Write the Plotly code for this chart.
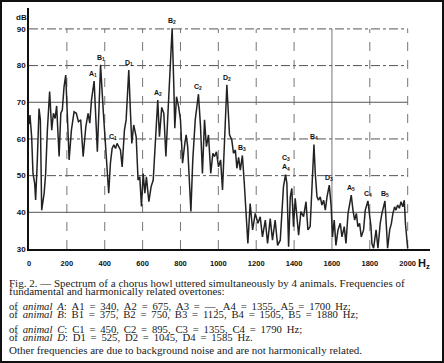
import plotly.graph_objects as go

# ---- data ----
freq_hz = [0, 5, 14, 21, 30, 35, 44, 53, 60, 67, 80, 88, 97, 109, 120, 129, 138, 146, 159, 168,
           176, 185, 194, 203, 212, 224, 238, 250, 261, 273, 286, 300, 312, 321, 330, 344, 353, 361,
           370, 378, 393, 405, 409, 421, 430, 439, 448, 457, 465, 474, 483, 492, 504, 513, 527, 536,
           543, 553, 566, 576, 585, 594, 603, 612, 620, 633, 645, 656, 664, 671, 680, 689, 701, 712,
           723, 733, 744, 756, 765, 770, 779, 790, 800, 811, 823, 830, 838, 846, 855, 865, 878, 895,
           906, 916, 927, 937, 948, 960, 971, 980, 990, 1001, 1012, 1022, 1033, 1045, 1059, 1071,
           1080, 1090, 1098, 1107, 1116, 1127, 1137, 1145, 1156, 1168, 1181, 1195, 1209, 1221, 1233,
           1248, 1260, 1274, 1286, 1300, 1313, 1327, 1336, 1344, 1355, 1362, 1371, 1380, 1388, 1397,
           1406, 1415, 1424, 1436, 1450, 1463, 1473, 1485, 1494, 1505, 1512, 1521, 1529, 1538, 1547,
           1556, 1565, 1574, 1586, 1596, 1603, 1612, 1621, 1632, 1644, 1653, 1665, 1674, 1685, 1693,
           1702, 1711, 1720, 1729, 1737, 1746, 1755, 1767, 1776, 1790, 1797, 1806, 1811, 1820, 1833,
           1843, 1855, 1864, 1880, 1885, 1894, 1905, 1914, 1922, 1931, 1938, 1947, 1956, 1965, 1974,
           1982, 1988, 2000]
level_db = [64, 66.5, 60.6, 50.6, 47.9, 43.4, 54.3, 68.3, 65.2, 40.6, 45.2, 50.6, 62.4, 72.9, 62.4,
            67, 65.6, 69, 55.2, 67, 67.9, 74.2, 77.4, 65.2, 54.3, 62.4, 67.4, 67, 64.7, 65.2, 55.2,
            63.3, 67, 64.3, 70.6, 75.8, 65.2, 56.5, 68.8, 80.2, 67, 56.5, 54.3, 45.2, 53.4, 57.4,
            58.4, 57.4, 58.8, 57.9, 57, 52.4, 62.4, 65.2, 78.8, 67, 58.8, 63.8, 60.6, 48.8, 49.7,
            41.6, 50.6, 45.2, 49.7, 42.9, 47, 48.8, 56.1, 62.4, 70.6, 60.6, 68.6, 67, 55.2, 66.1,
            78.8, 90.2, 74.2, 62.9, 71.5, 68.8, 65.2, 53.4, 58.8, 61.1, 57.9, 49.7, 40.2, 54.3,
            65.2, 72.2, 63.3, 50.6, 65.2, 57.9, 61.1, 50.6, 56.1, 55.2, 56.5, 52.4, 54.3, 46.1,
            59.7, 74.8, 61.1, 59.7, 56.1, 57, 52, 55, 51.5, 55.5, 48, 41.5, 31.5, 42.4, 35.2, 39.7,
            37, 38.8, 33.3, 37.9, 31.5, 38.3, 32.4, 37.9, 31, 32.4, 38.8, 47, 50.3, 47.9, 30.6, 44.2,
            46.5, 36.1, 43.8, 38.8, 33.8, 40.2, 38.8, 42.9, 35.2, 36.1, 47.9, 58.5, 50.6, 44.2, 43.3,
            44.2, 42, 43.3, 40.6, 44.2, 47.4, 41.5, 33.3, 37.9, 31, 35.2, 37, 33.3, 36.1, 31.5, 39.7,
            42.4, 44.7, 40.6, 37.9, 39.7, 36.1, 37, 33.3, 35.2, 40.6, 43.1, 39.7, 36.1, 31.5, 30.2,
            35.2, 30.2, 37, 39.7, 43.1, 37.9, 30.2, 35.2, 37, 39.7, 41.5, 40.6, 42, 41.1, 42.9, 41.5,
            43.3, 37, 30.2]

peak_labels = ["A<sub>1</sub>", "B<sub>1</sub>", "C<sub>1</sub>", "D<sub>1</sub>", "A<sub>2</sub>",
               "B<sub>2</sub>", "C<sub>2</sub>", "D<sub>2</sub>", "B<sub>3</sub>",
               "C<sub>3</sub><br>A<sub>4</sub>", "B<sub>4</sub>", "D<sub>3</sub>", "A<sub>5</sub>",
               "C<sub>4</sub>", "B<sub>5</sub>"]
peak_hz = [336, 378, 445, 527, 680, 756, 895, 1045, 1127, 1355, 1505, 1586, 1702, 1790, 1880]
peak_db = [75.8, 80.2, 58.6, 78.8, 70.6, 90.2, 72.2, 74.8, 55.5, 50.3, 58.5, 47.4, 44.7, 43.1, 43.1]

x_ticks = [0, 200, 400, 600, 800, 1000, 1200, 1400, 1600, 1800, 2000]
y_ticks = [30, 40, 50, 60, 70, 80, 90]

caption_lines = [
    "Fig. 2. — Spectrum of a chorus howl uttered simultaneously by 4 animals. Frequencies of",
    "fundamental and harmonically related overtones:",
    "of <i>animal A</i>: A1 = 340, A2 = 675, A3 = —, A4 = 1355, A5 = 1700 Hz;",
    "of <i>animal B</i>: B1 = 375, B2 = 750, B3 = 1125, B4 = 1505, B5 = 1880 Hz;",
    "of <i>animal C</i>: C1 = 450, C2 = 895, C3 = 1355, C4 = 1790 Hz;",
    "of <i>animal D</i>: D1 = 525, D2 = 1045, D4 = 1585 Hz.",
    "Other frequencies are due to background noise and are not harmonically related.",
]

# ---- layout geometry / styling ----
caption_py = [283, 291.2, 305.5, 313.5, 329, 337, 350]
caption_widen = [0, 0, 1, 1, 1, 1, 0]   # extra thin spaces per word gap (wide typesetting)
caption_size = [11, 11, 10.7, 10.7, 10.7, 10.7, 11]

W, H = 444, 363
L, R, T, B = 29, 14, 8, 114
pw, ph = W - L - R, H - T - B


def px(p):
    return (p - L) / pw


def py(p):
    return (H - B - p) / ph


fig = go.Figure()
fig.add_trace(go.Scatter(x=freq_hz, y=level_db, mode="lines",
                         line=dict(color="#222", width=1.5), hoverinfo="skip",
                         showlegend=False, cliponaxis=True))

shapes = []
for yv in [40, 50, 60, 70, 80, 90]:
    dash = "solid" if yv in (40, 70) else "dashdot"
    shapes.append(dict(type="line", xref="x", yref="y", x0=0, x1=2000, y0=yv, y1=yv,
                       line=dict(color="#555", width=1.0, dash=dash), layer="below"))
for xv in x_ticks[1:]:
    dash = "solid" if xv == 1600 else "dash"
    shapes.append(dict(type="line", xref="x", yref="y", x0=xv, x1=xv, y0=30, y1=90,
                       line=dict(color="#666", width=0.9, dash=dash), layer="below"))
shapes.append(dict(type="rect", xref="paper", yref="paper", x0=px(1), x1=px(443),
                   y0=py(362), y1=py(1), line=dict(color="#111", width=2)))

annotations = []
for lab, hx, dv in zip(peak_labels, peak_hz, peak_db):
    annotations.append(dict(x=hx, y=dv, xref="x", yref="y", text=lab, showarrow=False,
                            yanchor="bottom", yshift=1,
                            font=dict(family="Liberation Sans", size=7, color="#111", weight="bold")))
annotations.append(dict(x=px(21), y=py(18), xref="paper", yref="paper", text="dB",
                        showarrow=False, xanchor="center", yanchor="middle",
                        font=dict(family="Liberation Sans", size=8, color="#111", weight="bold")))
annotations.append(dict(x=px(416), y=py(264), xref="paper", yref="paper", text="H<sub>z</sub>",
                        showarrow=False, xanchor="left", yanchor="middle",
                        font=dict(family="Liberation Sans", size=11, color="#111", weight="bold")))
for txt, yy, wd, fs in zip(caption_lines, caption_py, caption_widen, caption_size):
    shown = txt.replace(" ", " " + "\u2009" * wd) if wd else txt
    annotations.append(dict(x=px(7), y=py(yy), xref="paper", yref="paper", text=shown,
                            showarrow=False, xanchor="left", yanchor="middle",
                            font=dict(family="Liberation Serif", size=fs, color="#1a1a1a")))

fig.update_layout(
    width=W, height=H, autosize=False,
    margin=dict(l=L, r=R, t=T, b=B, autoexpand=False),
    paper_bgcolor="white", plot_bgcolor="white",
    shapes=shapes, annotations=annotations,
    xaxis=dict(range=[0, (430 - 29.3) / 0.1892], tickvals=x_ticks,
               ticktext=[str(v) for v in x_ticks], showgrid=False, zeroline=False,
               showline=True, linecolor="#111", linewidth=2, ticks="",
               ticklabelstandoff=6,
               tickfont=dict(family="Liberation Sans", size=7.5, color="#111", weight="bold")),
    yaxis=dict(range=[30, 95.7], tickvals=y_ticks, ticktext=[str(v) for v in y_ticks],
               showgrid=False, zeroline=False, showline=True, linecolor="#111", linewidth=1.5,
               ticks="", ticklabelstandoff=0,
               tickfont=dict(family="Liberation Sans", size=8, color="#111", weight="bold")),
)

fig.write_html("out.html", config={"displayModeBar": False},
               post_script="document.body.style.margin='0px';")
